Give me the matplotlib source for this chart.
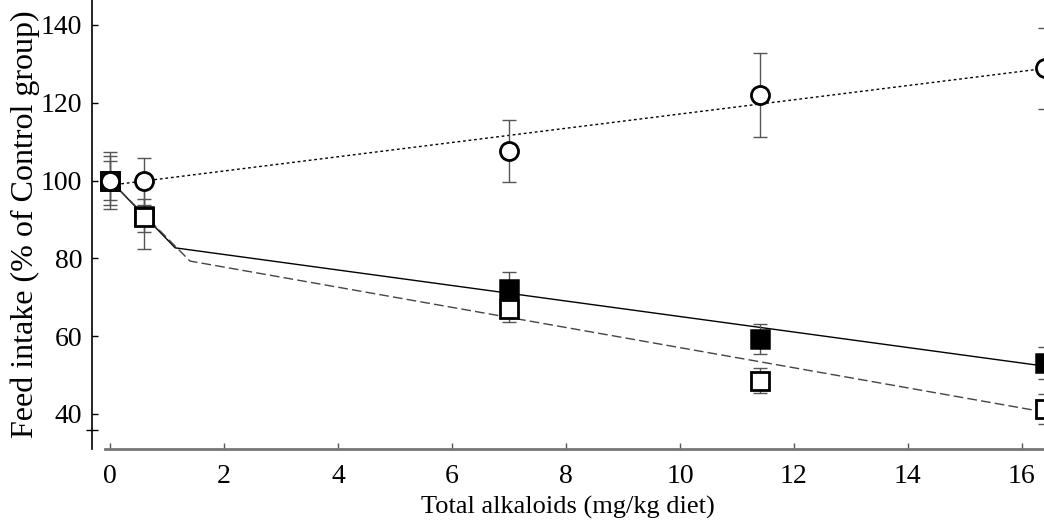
import matplotlib.pyplot as plt
import numpy as np

plt.rcParams['font.family'] = ['Liberation Serif', 'DejaVu Serif']

# 数据：总生物碱 (mg/kg) 与采食量 (% 对照组)
dose = [0, 0.6, 7.0, 11.4, 16.4]
circle_y = [100, 99.8, 107.5, 122.0, 128.8]
circle_err = [7.4, 6.0, 8.0, 10.7, 10.3]
filled_y = [100, 91.0, 72.0, 59.3, 53.1]
filled_err = [5.0, 4.3, 4.5, 3.8, 4.0]
open_y = [100, 90.6, 67.0, 48.6, 41.3]
open_err = [6.3, 8.3, 3.4, 3.3, 3.8]

# 拟合线的折点
fit_solid_x = [0, 1.14, 16.4]
fit_solid_y = [100, 82.7, 52.3]
fit_dash_x = [0, 1.4, 16.4]
fit_dash_y = [100, 79.3, 40.5]
fit_dot_x = [0, 16.4]
fit_dot_y = [98.8, 128.8]

fig = plt.figure(figsize=(10.44, 5.22), dpi=100)
ax = fig.add_axes([92/1044, 1-449/522, 1-92/1044, 449/522])
ax.set_xlim(-0.32, 16.39)
ax.set_ylim(31, 146.4)

ax.plot(fit_dot_x, fit_dot_y, color='black', linewidth=1, linestyle=(0, (2, 2)), zorder=2)
ax.plot(fit_solid_x, fit_solid_y, color='black', linewidth=1, zorder=2)
ax.plot(fit_dash_x, fit_dash_y, color='#444444', linewidth=1, linestyle=(0, (7, 3)), zorder=2)

eb = dict(fmt='none', ecolor='#555555', elinewidth=1, capsize=5, capthick=1, zorder=3)
ax.errorbar(dose, circle_y, yerr=circle_err, **eb)
ax.errorbar(dose, filled_y, yerr=filled_err, **eb)
ax.errorbar(dose, open_y, yerr=open_err, **eb)

ax.plot(dose, filled_y, 's', markersize=12.5, markerfacecolor='black',
        markeredgecolor='black', markeredgewidth=1.8, linestyle='none', zorder=4, clip_on=False)
ax.plot(dose, open_y, 's', markersize=12.5, markerfacecolor='white',
        markeredgecolor='black', markeredgewidth=2, linestyle='none', zorder=4, clip_on=False)
ax.plot(dose, circle_y, 'o', markersize=13, markerfacecolor='white',
        markeredgecolor='black', markeredgewidth=2, linestyle='none', zorder=5, clip_on=False)

ax.spines['top'].set_visible(False)
ax.spines['right'].set_visible(False)
ax.spines['left'].set_linewidth(1.2)
ax.spines['bottom'].set_color('#777777')
ax.spines['bottom'].set_linewidth(2)
ax.spines['bottom'].set_bounds(-0.09, 16.39)

ax.set_xticks(np.arange(0, 17, 2))
ax.set_yticks(np.arange(40, 141, 20))
ax.set_yticks([36], minor=True)
ax.tick_params(axis='both', which='major', direction='in', length=4, width=1, labelsize=20)
ax.tick_params(axis='y', which='minor', direction='inout', length=8, width=1)
ax.tick_params(axis='y', which='major', pad=7)
ax.tick_params(axis='x', pad=11, color='#555555')

ax.set_xlabel('Total alkaloids (mg/kg diet)', fontsize=19, labelpad=5)
ax.set_ylabel('Feed intake (% of Control group)', fontsize=23, labelpad=0.5)

fig.savefig('out.png', dpi=100)
